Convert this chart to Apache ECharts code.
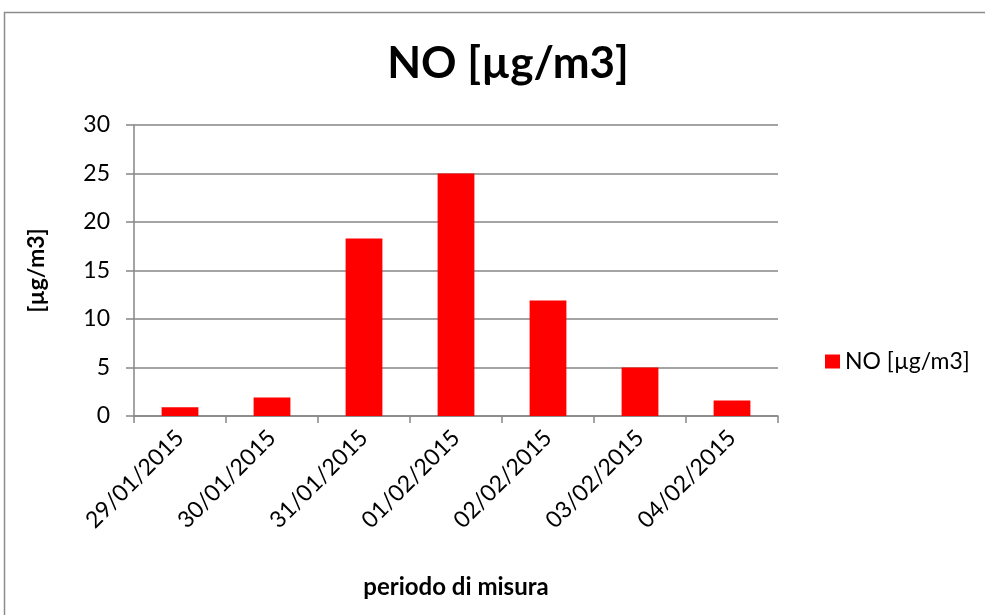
<!DOCTYPE html>
<html><head><meta charset="utf-8">
<script src="https://cdn.jsdelivr.net/npm/echarts@6/dist/echarts.min.js"></script>
<style>html,body{margin:0;padding:0;background:#fff}#c{width:985px;height:615px}</style>
</head><body><div id="c"></div>
<script>
const categories = ['29/01/2015','30/01/2015','31/01/2015','01/02/2015','02/02/2015','03/02/2015','04/02/2015'];
const values = [0.9, 1.9, 18.3, 25.0, 11.9, 5.0, 1.6];
const seriesName = 'NO [µg/m3]';
const FONT = 'Lato';
const chart = echarts.init(document.getElementById('c'));
chart.setOption({
  animation: false,
  textStyle: {fontFamily: FONT},
  graphic: [{type:'rect', shape:{x:4.5,y:12.5,width:1000,height:700}, style:{fill:'none', stroke:'#8c8c8c', lineWidth:1.5}, silent:true}],
  title: {text: 'NO [µg/m3]', left: 503, top: 37, textAlign: 'center',
    textStyle: {fontFamily: FONT, fontSize: 44, fontWeight: 'bold', color: '#000'}},
  legend: {data: [seriesName], left: 820, top: 345, itemWidth: 15, itemHeight: 14, itemGap: 6,
    icon: 'rect', textStyle: {fontFamily: FONT, fontSize: 23, color: '#000'}},
  grid: {left: 134, right: 207, top: 125, bottom: 199},
  xAxis: {type: 'category', data: categories, boundaryGap: true,
    name: 'periodo di misura', nameLocation: 'middle', nameGap: 159,
    nameTextStyle: {fontFamily: FONT, fontSize: 24, fontWeight: 'bold', color: '#000'},
    axisLine: {lineStyle: {color: '#868686', width: 1.5}},
    axisTick: {show: true, alignWithLabel: false, length: 7, lineStyle: {color: '#868686', width: 1.5}},
    axisLabel: {rotate: 45, fontSize: 23, color: '#000', margin: 18, fontFamily: FONT}},
  yAxis: {type: 'value', min: 0, max: 30, interval: 5,
    name: '[µg/m3]', nameLocation: 'middle', nameGap: 86, nameRotate: 90,
    nameTextStyle: {fontFamily: FONT, fontSize: 23, fontWeight: 'bold', color: '#000'},
    axisLine: {show: true, lineStyle: {color: '#868686', width: 1.5}},
    axisTick: {show: true, inside: false, length: 8, lineStyle: {color: '#868686', width: 1.5}},
    axisLabel: {fontSize: 23, color: '#000', margin: 24, fontFamily: FONT},
    splitLine: {show: true, lineStyle: {color: '#868686', width: 1.5}}},
  series: [{name: seriesName, type: 'bar', data: values, barWidth: '40%',
    itemStyle: {color: '#ff0000'}}]
});
</script></body></html>
